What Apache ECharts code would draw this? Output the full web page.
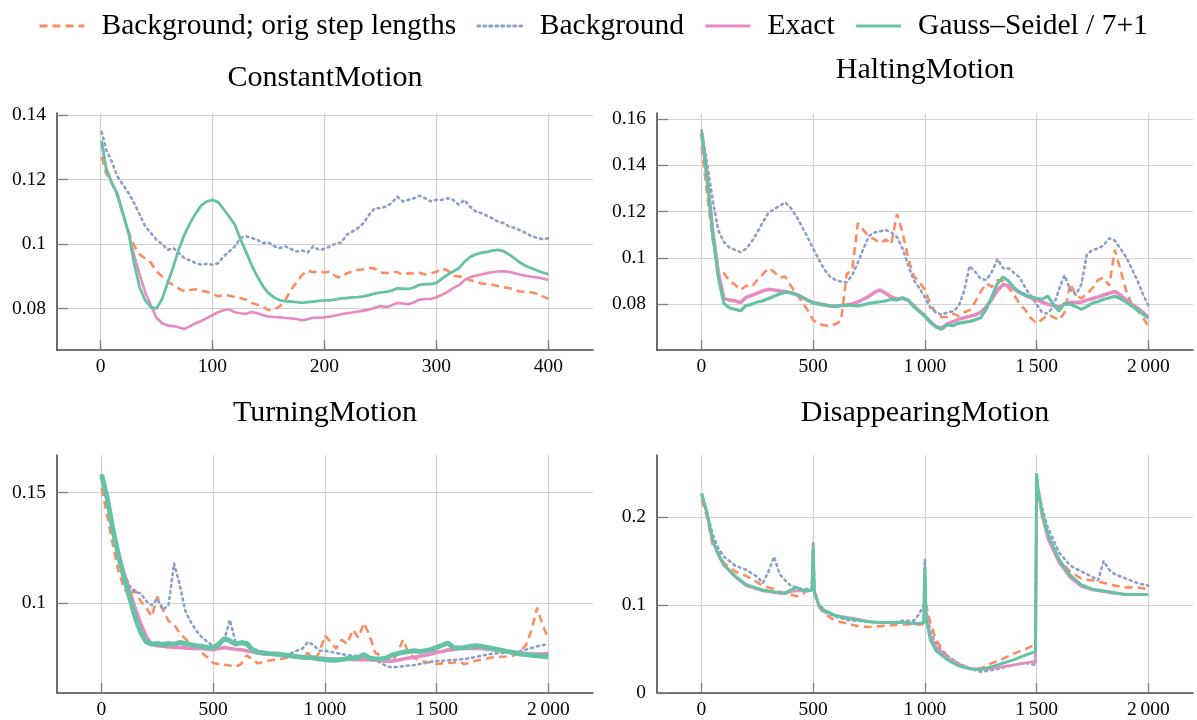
<!DOCTYPE html>
<html><head><meta charset="utf-8">
<script src="https://cdn.jsdelivr.net/npm/echarts@6/dist/echarts.min.js"></script>
<style>html,body{margin:0;padding:0;background:#fff}#c{width:1197px;height:720px}</style>
</head><body><div id="c"></div>
<script>
// ---------- DATA ----------
const seriesNames = ['Background; orig step lengths', 'Background', 'Exact', 'Gauss\u2013Seidel / 7+1'];
const titles = ['ConstantMotion', 'HaltingMotion', 'TurningMotion', 'DisappearingMotion'];

const xTicks1 = [0, 100, 200, 300, 400];
const xTicks234 = [0, 500, 1000, 1500, 2000];
const yTicks1 = [0.08, 0.1, 0.12, 0.14];
const yTicks2 = [0.08, 0.1, 0.12, 0.14, 0.16];
const yTicks3 = [0.1, 0.15];
const yTicks4 = [0, 0.1, 0.2];

// Panel 1: ConstantMotion
const p1x = [1,5,10,15,20,25,30,35,40,45,50,55,60,65,70,75,80,85,90,95,100,105,110,115,120,125,130,135,140,145,150,155,160,165,170,175,180,185,190,195,200,205,210,215,220,225,230,235,240,245,250,255,260,265,270,275,280,285,290,295,300,305,310,315,320,325,330,335,340,345,350,355,360,365,370,375,380,385,390,395,400];
const p1Orange = [0.1270,0.1220,0.1190,0.1150,0.1090,0.1040,0.0995,0.0968,0.0955,0.0942,
0.0915,0.0900,0.0885,0.0872,0.0862,0.0853,0.0858,0.0860,0.0856,0.0852,
0.0846,0.0838,0.0843,0.0840,0.0836,0.0833,0.0828,0.0818,0.0812,0.0806,
0.0795,0.0797,0.0807,0.0826,0.0858,0.0882,0.0904,0.0918,0.0913,0.0916,
0.0912,0.0915,0.0900,0.0896,0.0910,0.0916,0.0920,0.0922,0.0926,0.0924,
0.0912,0.0910,0.0914,0.0913,0.0905,0.0910,0.0908,0.0911,0.0906,0.0910,
0.0914,0.0925,0.0918,0.0902,0.0900,0.0898,0.0888,0.0884,0.0878,0.0876,
0.0874,0.0870,0.0866,0.0864,0.0858,0.0853,0.0852,0.0850,0.0846,0.0838,
0.0831];
const p1Blue = [0.1348,0.1292,0.1256,0.1210,0.1184,0.1158,0.1127,0.1091,0.1055,0.1034,
0.1013,0.1000,0.0982,0.0988,0.0972,0.0956,0.0949,0.0941,0.0936,0.0939,
0.0936,0.0941,0.0962,0.0977,0.0993,0.1019,0.1024,0.1019,0.1013,0.1003,
0.1005,0.0993,0.0988,0.0993,0.0985,0.0977,0.0980,0.0974,0.0993,0.0982,
0.0985,0.0993,0.1001,0.1005,0.1029,0.1039,0.1050,0.1065,0.1091,0.1111,
0.1111,0.1116,0.1127,0.1147,0.1132,0.1137,0.1142,0.1150,0.1142,0.1132,
0.1137,0.1137,0.1142,0.1137,0.1122,0.1137,0.1116,0.1101,0.1096,0.1088,
0.1080,0.1070,0.1065,0.1055,0.1050,0.1042,0.1034,0.1024,0.1020,0.1015,
0.1018];
const p1Pink = [0.1310,0.1235,0.1190,0.1155,0.1095,0.1035,0.0965,0.0905,0.0850,0.0810,
0.0772,0.0755,0.0748,0.0746,0.0742,0.0737,0.0746,0.0755,0.0762,0.0771,
0.0780,0.0789,0.0795,0.0798,0.0789,0.0786,0.0784,0.0790,0.0786,0.0780,
0.0776,0.0774,0.0773,0.0771,0.0770,0.0768,0.0764,0.0767,0.0772,0.0772,
0.0773,0.0776,0.0779,0.0783,0.0786,0.0788,0.0791,0.0794,0.0797,0.0803,
0.0808,0.0805,0.0810,0.0818,0.0816,0.0814,0.0820,0.0828,0.0830,0.0830,
0.0835,0.0843,0.0852,0.0864,0.0872,0.0888,0.0897,0.0902,0.0906,0.0910,
0.0913,0.0915,0.0916,0.0914,0.0910,0.0905,0.0902,0.0899,0.0897,0.0893,
0.0890];
const p1Green = [0.1320,0.1235,0.1190,0.1155,0.1095,0.1035,0.0940,0.0865,0.0825,0.0805,
0.0800,0.0830,0.0880,0.0930,0.0985,0.1030,0.1065,0.1095,0.1120,0.1132,
0.1137,0.1130,0.1108,0.1085,0.1060,0.1015,0.0975,0.0935,0.0900,0.0870,
0.0848,0.0835,0.0826,0.0823,0.0822,0.0820,0.0818,0.0820,0.0822,0.0824,
0.0826,0.0826,0.0829,0.0832,0.0833,0.0835,0.0836,0.0838,0.0842,0.0847,
0.0850,0.0852,0.0856,0.0863,0.0862,0.0861,0.0866,0.0874,0.0876,0.0876,
0.0880,0.0893,0.0905,0.0915,0.0925,0.0945,0.0960,0.0968,0.0973,0.0976,
0.0980,0.0982,0.0978,0.0968,0.0955,0.0942,0.0932,0.0925,0.0918,0.0912,
0.0907];

// Panels 2 and 3 share sample positions
const p23x = [1,25,50,75,100,125,150,175,200,225,250,275,300,325,350,375,400,425,450,475,500,525,550,575,600,625,650,675,700,725,750,775,800,825,850,875,900,925,950,975,1000,1025,1050,1075,1100,1125,1150,1175,1200,1225,1250,1275,1300,1325,1350,1375,1400,1425,1450,1475,1500,1525,1550,1575,1600,1625,1650,1675,1700,1725,1750,1775,1800,1825,1850,1875,1900,1925,1950,1975,2000];

// Panel 2: HaltingMotion
const p2Orange = [0.1480,0.1280,0.1080,0.0950,0.0935,0.0900,0.0885,0.0862,0.0880,0.0875,
0.0905,0.0930,0.0955,0.0940,0.0915,0.0920,0.0880,0.0845,0.0810,0.0775,
0.0732,0.0715,0.0710,0.0705,0.0715,0.0730,0.0930,0.0950,0.1150,0.1120,
0.1092,0.1080,0.1063,0.1080,0.1060,0.1190,0.1110,0.1000,0.0920,0.0898,
0.0862,0.0800,0.0761,0.0745,0.0745,0.0760,0.0750,0.0765,0.0775,0.0810,
0.0855,0.0890,0.0875,0.0905,0.0900,0.0870,0.0840,0.0800,0.0775,0.0740,
0.0718,0.0735,0.0755,0.0745,0.0732,0.0765,0.0890,0.0840,0.0825,0.0845,
0.0870,0.0905,0.0915,0.0880,0.1035,0.0950,0.0862,0.0800,0.0775,0.0745,
0.0705];
const p2Blue = [0.1550,0.1410,0.1250,0.1120,0.1070,0.1045,0.1035,0.1025,0.1040,0.1070,
0.1110,0.1155,0.1195,0.1210,0.1225,0.1240,0.1215,0.1180,0.1135,0.1090,
0.1040,0.0995,0.0950,0.0920,0.0905,0.0898,0.0895,0.0925,0.0980,0.1040,
0.1095,0.1110,0.1115,0.1120,0.1110,0.1090,0.1040,0.0970,0.0905,0.0870,
0.0830,0.0785,0.0765,0.0755,0.0765,0.0770,0.0790,0.0855,0.0965,0.0940,
0.0910,0.0905,0.0940,0.0995,0.0955,0.0955,0.0935,0.0915,0.0870,0.0835,
0.0800,0.0765,0.0760,0.0790,0.0865,0.0925,0.0865,0.0840,0.0885,0.1015,
0.1035,0.1040,0.1055,0.1085,0.1075,0.1040,0.1005,0.0955,0.0905,0.0845,
0.0795];
const p2Pink = [0.1540,0.1350,0.1120,0.0940,0.0825,0.0818,0.0815,0.0808,0.0830,0.0838,
0.0848,0.0858,0.0865,0.0862,0.0858,0.0855,0.0850,0.0842,0.0830,0.0818,
0.0808,0.0802,0.0798,0.0793,0.0792,0.0795,0.0797,0.0802,0.0810,0.0822,
0.0835,0.0852,0.0862,0.0848,0.0832,0.0822,0.0826,0.0818,0.0793,0.0772,
0.0750,0.0725,0.0703,0.0698,0.0715,0.0725,0.0735,0.0742,0.0748,0.0755,
0.0765,0.0790,0.0822,0.0860,0.0885,0.0880,0.0865,0.0850,0.0838,0.0828,
0.0820,0.0810,0.0800,0.0795,0.0788,0.0800,0.0808,0.0808,0.0810,0.0818,
0.0825,0.0832,0.0840,0.0848,0.0855,0.0840,0.0820,0.0800,0.0785,0.0765,
0.0745];
const p2Green = [0.1540,0.1350,0.1110,0.0920,0.0805,0.0785,0.0778,0.0772,0.0795,0.0800,
0.0810,0.0815,0.0825,0.0835,0.0845,0.0852,0.0850,0.0842,0.0832,0.0818,
0.0805,0.0802,0.0797,0.0793,0.0790,0.0795,0.0797,0.0795,0.0793,0.0798,
0.0804,0.0808,0.0811,0.0815,0.0822,0.0818,0.0828,0.0818,0.0790,0.0770,
0.0748,0.0722,0.0702,0.0693,0.0711,0.0708,0.0718,0.0722,0.0726,0.0733,
0.0742,0.0780,0.0833,0.0890,0.0918,0.0900,0.0870,0.0852,0.0840,0.0832,
0.0826,0.0822,0.0835,0.0800,0.0770,0.0805,0.0800,0.0790,0.0778,0.0790,
0.0805,0.0812,0.0822,0.0828,0.0835,0.0825,0.0810,0.0793,0.0776,0.0758,
0.0740];

// Panel 3: TurningMotion
const p3Orange = [0.1520,0.1400,0.1270,0.1150,0.1070,0.1030,0.1060,0.1010,0.0980,0.0940,
0.1030,0.0970,0.0920,0.0905,0.0865,0.0840,0.0815,0.0795,0.0775,0.0755,
0.0730,0.0725,0.0722,0.0718,0.0712,0.0725,0.0765,0.0745,0.0728,0.0735,
0.0740,0.0745,0.0748,0.0752,0.0755,0.0758,0.0762,0.0775,0.0745,0.0775,
0.0855,0.0825,0.0795,0.0835,0.0815,0.0880,0.0845,0.0910,0.0855,0.0775,
0.0765,0.0745,0.0735,0.0775,0.0835,0.0775,0.0752,0.0740,0.0735,0.0730,
0.0725,0.0728,0.0730,0.0732,0.0735,0.0725,0.0732,0.0740,0.0745,0.0750,
0.0755,0.0757,0.0758,0.0760,0.0765,0.0785,0.0810,0.0880,0.0980,0.0900,
0.0840];
const p3Blue = [0.1580,0.1460,0.1330,0.1220,0.1140,0.1080,0.1050,0.1045,0.1010,0.0990,
0.1020,0.0970,0.0990,0.1180,0.1085,0.0965,0.0915,0.0875,0.0845,0.0825,
0.0805,0.0805,0.0835,0.0925,0.0825,0.0815,0.0810,0.0798,0.0785,0.0780,
0.0775,0.0770,0.0765,0.0768,0.0775,0.0785,0.0795,0.0825,0.0810,0.0785,
0.0785,0.0780,0.0775,0.0770,0.0765,0.0763,0.0762,0.0758,0.0752,0.0745,
0.0730,0.0715,0.0710,0.0712,0.0715,0.0718,0.0720,0.0725,0.0730,0.0735,
0.0738,0.0740,0.0742,0.0744,0.0745,0.0748,0.0752,0.0757,0.0762,0.0767,
0.0772,0.0774,0.0775,0.0776,0.0778,0.0784,0.0790,0.0798,0.0805,0.0810,
0.0815];
const p3Pink = [0.1570,0.1470,0.1340,0.1230,0.1140,0.1060,0.0980,0.0910,0.0850,0.0815,
0.0808,0.0805,0.0802,0.0800,0.0800,0.0798,0.0795,0.0795,0.0795,0.0792,
0.0790,0.0795,0.0800,0.0795,0.0792,0.0790,0.0785,0.0780,0.0775,0.0772,
0.0770,0.0768,0.0765,0.0762,0.0760,0.0760,0.0758,0.0756,0.0754,0.0752,
0.0750,0.0749,0.0748,0.0747,0.0748,0.0746,0.0745,0.0744,0.0744,0.0742,
0.0740,0.0738,0.0738,0.0742,0.0748,0.0752,0.0755,0.0760,0.0765,0.0770,
0.0778,0.0782,0.0788,0.0790,0.0795,0.0795,0.0795,0.0795,0.0795,0.0792,
0.0790,0.0788,0.0785,0.0780,0.0778,0.0775,0.0772,0.0770,0.0770,0.0770,
0.0772];
const p3Green = [0.1580,0.1480,0.1340,0.1220,0.1120,0.1030,0.0940,0.0870,0.0825,0.0815,
0.0818,0.0812,0.0818,0.0815,0.0822,0.0818,0.0812,0.0808,0.0805,0.0800,
0.0798,0.0815,0.0840,0.0830,0.0815,0.0822,0.0818,0.0790,0.0778,0.0775,
0.0772,0.0770,0.0768,0.0765,0.0762,0.0758,0.0755,0.0755,0.0752,0.0748,
0.0745,0.0742,0.0742,0.0745,0.0750,0.0752,0.0755,0.0768,0.0752,0.0748,
0.0748,0.0752,0.0765,0.0772,0.0778,0.0782,0.0785,0.0782,0.0785,0.0790,
0.0800,0.0810,0.0820,0.0800,0.0798,0.0800,0.0805,0.0808,0.0805,0.0800,
0.0795,0.0790,0.0785,0.0780,0.0775,0.0770,0.0768,0.0765,0.0762,0.0760,
0.0758];

// Panel 4: DisappearingMotion
const p4x = [1,25,50,75,100,150,200,250,275,300,325,350,375,400,425,450,475,495,500,505,525,550,600,650,700,750,800,850,900,950,975,995,1000,1005,1025,1050,1100,1150,1200,1250,1300,1350,1400,1450,1495,1500,1505,1525,1550,1600,1650,1700,1750,1775,1800,1825,1850,1900,1950,2000];
const p4Orange = [0.220,0.200,0.168,0.160,0.148,0.138,0.133,0.126,0.122,0.120,
0.118,0.115,0.113,0.112,0.110,0.111,0.118,0.125,0.170,0.120,
0.098,0.090,0.082,0.079,0.076,0.075,0.076,0.077,0.078,0.078,
0.078,0.078,0.088,0.100,0.080,0.060,0.042,0.033,0.028,0.028,
0.034,0.039,0.045,0.050,0.055,0.245,0.232,0.200,0.180,0.152,
0.138,0.130,0.128,0.127,0.125,0.124,0.122,0.120,0.120,0.118];
const p4Blue = [0.225,0.205,0.180,0.165,0.155,0.145,0.140,0.132,0.125,0.138,
0.155,0.135,0.128,0.122,0.120,0.118,0.118,0.120,0.172,0.115,
0.100,0.092,0.087,0.083,0.082,0.081,0.080,0.080,0.082,0.082,
0.090,0.100,0.152,0.095,0.070,0.055,0.042,0.034,0.028,0.024,
0.026,0.029,0.032,0.034,0.032,0.245,0.235,0.210,0.188,0.160,
0.145,0.138,0.132,0.128,0.150,0.140,0.135,0.130,0.125,0.122];
const p4Pink = [0.226,0.203,0.172,0.157,0.145,0.132,0.122,0.118,0.116,0.115,
0.114,0.113,0.113,0.115,0.116,0.116,0.116,0.117,0.160,0.114,
0.100,0.094,0.088,0.086,0.084,0.081,0.080,0.080,0.080,0.079,
0.079,0.080,0.125,0.088,0.065,0.052,0.040,0.033,0.028,0.027,
0.028,0.030,0.032,0.034,0.036,0.245,0.232,0.200,0.175,0.148,
0.131,0.121,0.117,0.116,0.115,0.114,0.113,0.112,0.112,0.112];
const p4Green = [0.227,0.205,0.174,0.158,0.146,0.133,0.123,0.119,0.117,0.116,
0.115,0.114,0.114,0.117,0.120,0.117,0.116,0.117,0.166,0.115,
0.100,0.094,0.088,0.085,0.083,0.081,0.080,0.080,0.080,0.079,
0.079,0.080,0.143,0.085,0.060,0.048,0.038,0.031,0.0275,0.0265,
0.030,0.034,0.038,0.043,0.047,0.250,0.235,0.205,0.181,0.152,
0.134,0.123,0.118,0.117,0.116,0.115,0.114,0.112,0.112,0.112];

// ---------- CHART ----------
const FONT = '"Liberation Serif", "Times New Roman", serif';
const COLORS = ['#fc8d62', '#8da0cb', '#e78ac3', '#66c2a5'];
const LINE = [
  {type: [8, 5], width: 2.6},
  {type: [2, 4], width: 2.6, cap: 'round'},
  {type: 'solid', width: 2.6},
  {type: 'solid', width: 2.8}
];
// per-panel widths for the noisy (band-like) solid lines
const BAND = [
  [null, null, 2.6, 2.8],
  [null, null, 3.6, 3.2],
  [null, null, 3.6, 5.0],
  [null, null, 2.6, 3.0]
];

const panels = [
  {grid: {left: 57, top: 113, width: 536, height: 237}, xmin: -38.9, xmax: 439.9, xt: xTicks1, ymin: 0.0672, ymax: 0.1406, yt: yTicks1,
   x: p1x, ys: [p1Orange, p1Blue, p1Pink, p1Green], title: [325, 78]},
  {grid: {left: 657, top: 113, width: 536, height: 237}, xmin: -198.9, xmax: 2199.9, xt: xTicks234, ymin: 0.0603, ymax: 0.1625, yt: yTicks2,
   x: p23x, ys: [p2Orange, p2Blue, p2Pink, p2Green], title: [925, 70]},
  {grid: {left: 57, top: 455, width: 536, height: 238}, xmin: -198.9, xmax: 2199.9, xt: xTicks234, ymin: 0.0594, ymax: 0.167, yt: yTicks3,
   x: p23x, ys: [p3Orange, p3Blue, p3Pink, p3Green], title: [325, 413]},
  {grid: {left: 657, top: 455, width: 536, height: 238}, xmin: -198.9, xmax: 2199.9, xt: xTicks234, ymin: 0, ymax: 0.2705, yt: yTicks4,
   x: p4x, ys: [p4Orange, p4Blue, p4Pink, p4Green], title: [925, 413]}
];

const fmtY = v => String(parseFloat(Number(v).toFixed(3)));
const fmtX = v => String(Math.round(v)).replace(/\B(?=(\d{3})+(?!\d))/g, '\u2009');

const grids = [], xAxes = [], yAxes = [], series = [], graphics = [];
panels.forEach((p, gi) => {
  grids.push(Object.assign({containLabel: false}, p.grid));
  xAxes.push({
    type: 'value', gridIndex: gi, min: p.xmin, max: p.xmax,
    axisLine: {show: true, onZero: false, lineStyle: {color: '#4a4a4a', width: 1.6}},
    axisTick: {show: true, inside: true, length: 10, customValues: p.xt, lineStyle: {color: '#808080', width: 1.3}},
    axisLabel: {customValues: p.xt, formatter: fmtX, fontFamily: FONT, fontSize: 19.5, color: '#000', margin: 7},
    splitLine: {show: true, lineStyle: {color: '#d2d2d2', width: 1.2}}
  });
  yAxes.push({
    type: 'value', gridIndex: gi, min: p.ymin, max: p.ymax,
    axisLine: {show: true, onZero: false, lineStyle: {color: '#4a4a4a', width: 1.6}},
    axisTick: {show: true, inside: true, length: 11, customValues: p.yt, lineStyle: {color: '#808080', width: 1.3}},
    axisLabel: {customValues: p.yt, formatter: fmtY, fontFamily: FONT, fontSize: 19.5, color: '#000', margin: 11},
    splitLine: {show: true, lineStyle: {color: '#d2d2d2', width: 1.2}}
  });
  p.ys.forEach((ys, si) => {
    const ls = Object.assign({color: COLORS[si]}, LINE[si]);
    if (BAND[gi][si]) ls.width = BAND[gi][si];
    series.push({
      type: 'line', name: seriesNames[si], xAxisIndex: gi, yAxisIndex: gi,
      data: p.x.map((x, i) => [x, ys[i]]),
      symbol: 'none', showSymbol: false, smooth: false, animation: false,
      color: COLORS[si],
      lineStyle: ls,
      z: 2 + si
    });
  });
  graphics.push({
    type: 'text', x: p.title[0], y: p.title[1],
    style: {text: titles[gi], font: '30px ' + FONT, fill: '#000', align: 'center', verticalAlign: 'middle',
            textAlign: 'center', textVerticalAlign: 'middle'}
  });
});

const chart = echarts.init(document.getElementById('c'), null, {renderer: 'canvas'});
chart.setOption({
  animation: false,
  backgroundColor: '#fff',
  legend: {
    data: seriesNames, left: 33, top: 6, itemWidth: 45, itemHeight: 14, itemGap: 20,
    itemStyle: {opacity: 0},
    lineStyle: {width: 3},
    textStyle: {fontFamily: FONT, fontSize: 29.5, color: '#000', padding: [0, 0, 0, 12]}
  },
  grid: grids, xAxis: xAxes, yAxis: yAxes, series: series,
  graphic: graphics
});
</script>
</body></html>
